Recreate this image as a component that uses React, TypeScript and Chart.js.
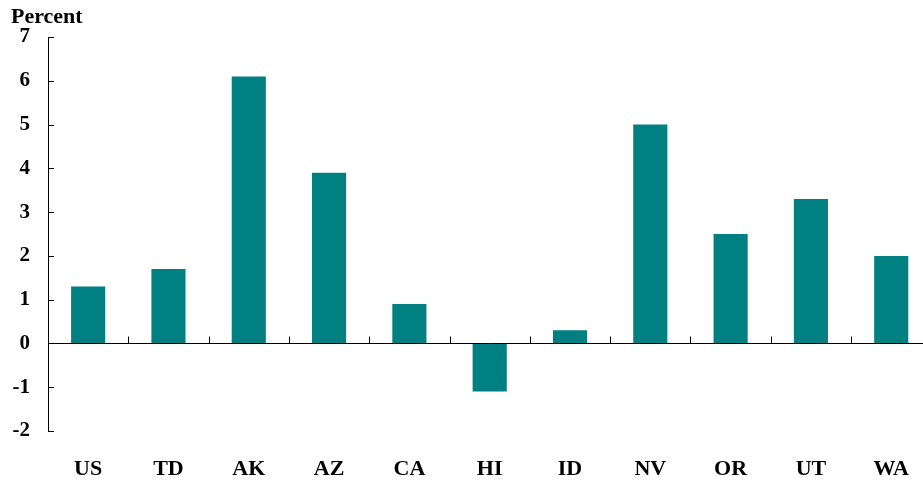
import React, { useEffect, useRef } from "react";
import { Chart, registerables } from "chart.js";

Chart.register(...registerables);

const categories = ["US", "TD", "AK", "AZ", "CA", "HI", "ID", "NV", "OR", "UT", "WA"];
const values = [1.3, 1.7, 6.1, 3.9, 0.9, -1.1, 0.3, 5.0, 2.5, 3.3, 2.0];
const yTitle = "Percent";
const yMin = -2;
const yMax = 7;

const FONT = "'Liberation Serif', 'Times New Roman', serif";

const axisPlugin = {
  id: "axisDecor",
  afterDraw(chart: any) {
    const { ctx, chartArea, scales } = chart;
    const x = scales.x;
    const y = scales.y;
    ctx.save();
    ctx.strokeStyle = "#000";
    ctx.lineWidth = 1;
    // y inward ticks
    y.ticks.forEach((t: any) => {
      const py = Math.round(y.getPixelForValue(t.value)) + 0.5;
      ctx.beginPath();
      ctx.moveTo(chartArea.left, py);
      ctx.lineTo(chartArea.left + 6, py);
      ctx.stroke();
    });
    // zero line
    const y0 = Math.round(y.getPixelForValue(0)) + 0.5;
    ctx.beginPath();
    ctx.moveTo(chartArea.left, y0);
    ctx.lineTo(chartArea.right, y0);
    ctx.stroke();
    // category separators
    for (let i = 0; i < categories.length - 1; i++) {
      const px = Math.round((x.getPixelForValue(i) + x.getPixelForValue(i + 1)) / 2) + 0.5;
      ctx.beginPath();
      ctx.moveTo(px, y0);
      ctx.lineTo(px, y0 - 7);
      ctx.stroke();
    }
    // title
    ctx.fillStyle = "#000";
    ctx.font = `bold 22px ${FONT}`;
    ctx.textAlign = "left";
    ctx.textBaseline = "alphabetic";
    ctx.fillText(yTitle, chartArea.left - 37, 23);
    ctx.restore();
  },
};

export default function App() {
  const ref = useRef<HTMLCanvasElement | null>(null);
  useEffect(() => {
    if (!ref.current) return;
    const chart = new Chart(ref.current, {
      type: "bar",
      data: {
        labels: categories,
        datasets: [
          {
            data: values,
            backgroundColor: "#008080",
            borderWidth: 0,
            barPercentage: 0.425,
            categoryPercentage: 1,
          },
        ],
      },
      options: {
        responsive: false,
        animation: false,
        maintainAspectRatio: false,
        layout: { padding: { top: 37, right: 1, left: 0, bottom: 0 } },
        plugins: { legend: { display: false }, tooltip: { enabled: false } },
        scales: {
          x: {
            grid: { display: false, drawTicks: false },
            border: { display: false },
            ticks: {
              color: "#000",
              font: { family: FONT, size: 22, weight: "bold" },
              padding: 25,
              maxRotation: 0,
            },
            afterFit(s: any) {
              s.height = 49;
            },
          },
          y: {
            min: yMin,
            max: yMax,
            grid: { display: false, drawTicks: false },
            border: { display: true, color: "#000", width: 1 },
            ticks: {
              stepSize: 1,
              color: "#000",
              font: { family: FONT, size: 21, weight: "bold" },
              padding: 18,
            },
            afterFit(s: any) {
              s.width = 48;
            },
          },
        },
      },
      plugins: [axisPlugin],
    });
    return () => chart.destroy();
  }, []);
  return (
    <div style={{ position: "absolute", left: 0, top: 0, width: 923, height: 480, overflow: "hidden", background: "#fff" }}>
      <canvas ref={ref} width={934} height={480} style={{ width: 934, height: 480, display: "block" }} />
    </div>
  );
}
